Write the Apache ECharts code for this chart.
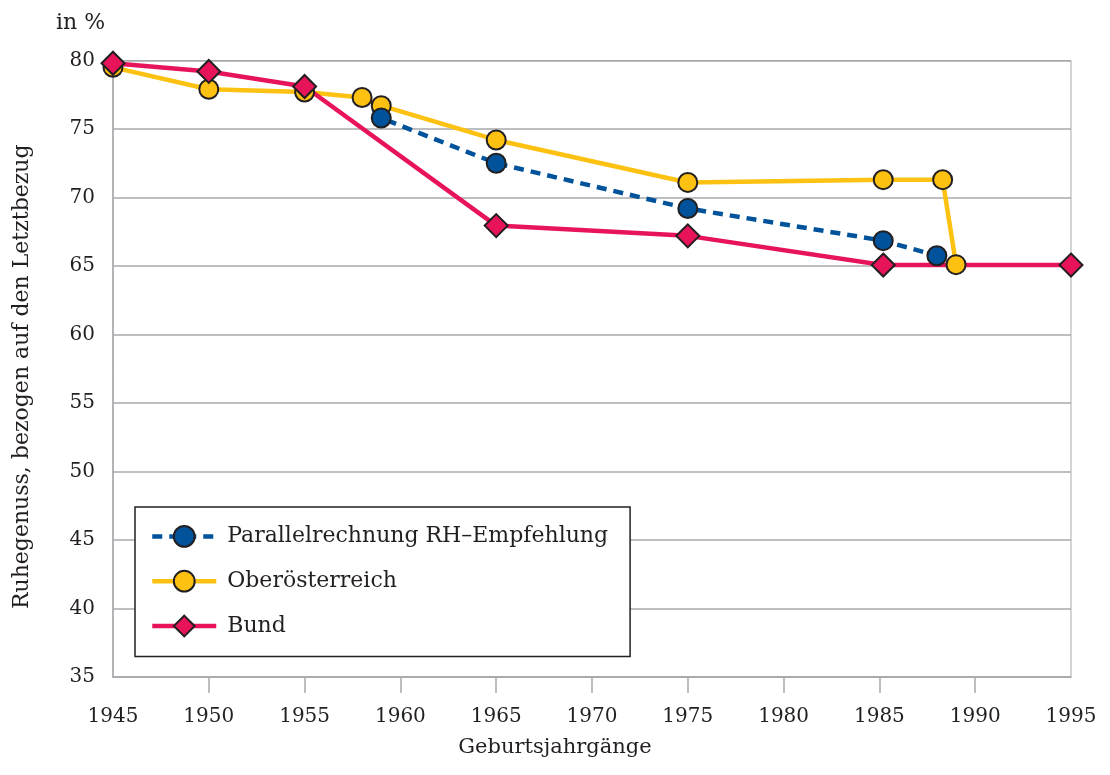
<!DOCTYPE html>
<html>
<head>
<meta charset="utf-8">
<script src="https://cdn.jsdelivr.net/npm/echarts@6/dist/echarts.min.js"></script>
<style>
  html, body { margin: 0; padding: 0; background: #fff; }
  #chart { width: 1110px; height: 775px; }
</style>
</head>
<body>
<div id="chart"></div>
<script>
// values: [birth year, percent]
var parallelData = [[1958, 77.3], [1959, 75.8], [1965, 72.5], [1975, 69.2], [1985.2, 66.85], [1988, 65.75]];
var ooeData = [[1945, 79.5], [1950, 77.9], [1955, 77.7], [1958, 77.3], [1959, 76.7], [1965, 74.2], [1975, 71.1], [1985.2, 71.3], [1988.3, 71.3], [1989, 65.1]];
var bundData = [[1945, 79.8], [1950, 79.2], [1955, 78.1], [1965, 67.95], [1975, 67.2], [1985.2, 65.07], [1995, 65.07]];
var xTicks = [1950, 1955, 1960, 1965, 1970, 1975, 1980, 1985, 1990];

var textColor = '#231f20';
var gridColor = '#a7a9ac';
var font = 'DejaVu Serif';

var chart = echarts.init(document.getElementById('chart'));

// first blue point sits under the yellow 1958 marker, no marker of its own
var parallelSeriesData = parallelData.map(function(p, i) {
  return i === 0 ? { value: p, symbol: 'none' } : p;
});

chart.setOption({
  animation: false,
  title: {
    text: 'in %',
    left: 51,
    top: 7,
    textStyle: { fontFamily: font, fontWeight: 'normal', fontSize: 22, color: textColor }
  },
  grid: {
    left: 113,
    right: 39,
    top: 60.5,
    bottom: 98,
    show: true,
    borderColor: gridColor,
    borderWidth: 1
  },
  legend: {
    orient: 'vertical',
    left: 135,
    top: 507,
    backgroundColor: '#fff',
    borderColor: textColor,
    borderWidth: 1.5,
    borderRadius: 0,
    padding: [18, 22, 19, 15],
    itemWidth: 64,
    itemHeight: 26,
    itemGap: 22,
    lineStyle: { width: 4.5 },
    textStyle: { fontFamily: font, fontSize: 22, lineHeight: 22, color: textColor, padding: [0, 0, 0, 6] },
    data: ['Parallelrechnung RH–Empfehlung', 'Oberösterreich', 'Bund']
  },
  xAxis: {
    type: 'value',
    min: 1945,
    max: 1995,
    interval: 5,
    name: 'Geburtsjahrgänge',
    nameLocation: 'middle',
    nameGap: 60,
    nameTextStyle: { fontFamily: font, fontSize: 21, color: textColor, padding: [0, 74, 0, 0] },
    axisLine: { lineStyle: { color: gridColor, width: 1.5 } },
    axisTick: { show: true, length: 16, customValues: xTicks, lineStyle: { color: gridColor, width: 1.5 } },
    axisLabel: {
      margin: 30,
      fontFamily: font,
      fontSize: 20,
      color: textColor,
      formatter: function(v) { return String(v); }
    },
    splitLine: { show: false }
  },
  yAxis: {
    type: 'value',
    min: 35,
    max: 80,
    interval: 5,
    name: 'Ruhegenuss, bezogen auf den Letztbezug',
    nameLocation: 'middle',
    nameRotate: 90,
    nameGap: 80,
    nameTextStyle: { fontFamily: font, fontSize: 22, color: textColor, padding: [0, 16, 0, 0] },
    axisLine: { show: true, lineStyle: { color: gridColor, width: 1.5 } },
    axisTick: { show: false },
    axisLabel: { margin: 18, fontFamily: font, fontSize: 20, color: textColor },
    splitLine: { lineStyle: { color: gridColor, width: 1.5 } }
  },
  series: [
    {
      name: 'Oberösterreich',
      type: 'line',
      data: ooeData,
      symbol: 'circle',
      symbolSize: 19,
      lineStyle: { color: '#fdc111', width: 4.5 },
      itemStyle: { color: '#fdc111', borderColor: textColor, borderWidth: 2 }
    },
    {
      name: 'Parallelrechnung RH–Empfehlung',
      type: 'line',
      data: parallelSeriesData,
      symbol: 'circle',
      symbolSize: 19,
      lineStyle: { color: '#00529b', width: 4.5, type: [10, 7] },
      itemStyle: { color: '#00529b', borderColor: textColor, borderWidth: 2 }
    },
    {
      name: 'Bund',
      type: 'line',
      data: bundData,
      symbol: 'diamond',
      symbolSize: [23, 23],
      lineStyle: { color: '#e8145a', width: 4.5 },
      itemStyle: { color: '#e8145a', borderColor: textColor, borderWidth: 2 }
    }
  ]
});
</script>
</body>
</html>
